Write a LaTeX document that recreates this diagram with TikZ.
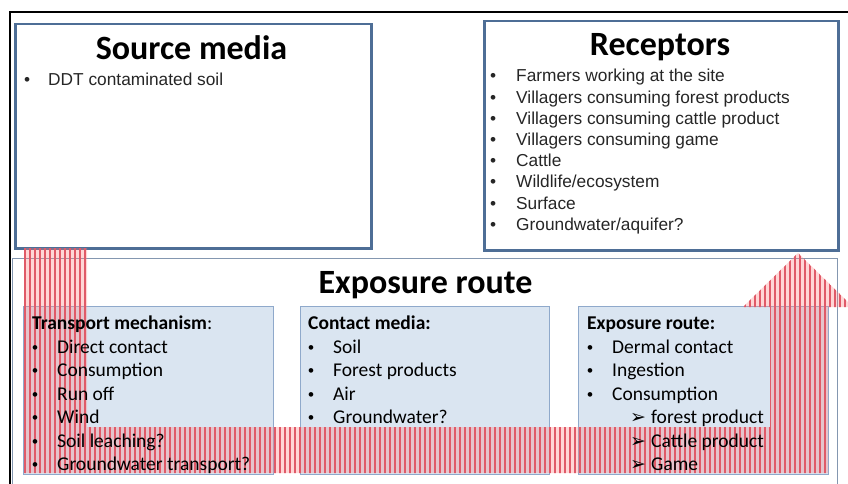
\documentclass[tikz,border=0pt]{standalone}
\usepackage{fontspec}
\setmainfont{Carlito}
\newfontfamily\arialf{Liberation Sans}
\newfontfamily\djv{DejaVu Sans}
\usetikzlibrary{patterns.meta}
\definecolor{topblue}{HTML}{4E6E96}
\definecolor{bigborder}{HTML}{8497B0}
\definecolor{boxfill}{HTML}{DAE5F1}
\definecolor{boxborder}{HTML}{8FA9CB}
\definecolor{stripe}{HTML}{E05A68}
\newcommand{\bul}[1]{\makebox[#1][l]{\textbullet}}
\newcommand{\cbul}{\makebox[25pt][l]{\arialf\fontsize{17}{17}\selectfont\textbullet}}
\newcommand{\subarr}{\hspace*{43pt}\makebox[21pt][l]{\djv\fontsize{19}{19}\selectfont ➢}}
\begin{document}
\begin{tikzpicture}[x=1pt,y=-1pt,
  topbox/.style={draw=topblue, line width=2.5pt, fill=white, anchor=north west, inner sep=0pt},
  subbox/.style={draw=boxborder, line width=0.8pt, fill=boxfill, anchor=north west, inner sep=0pt, minimum width=250pt, minimum height=168pt},
  bigbox/.style={draw=bigborder, line width=0.8pt, anchor=north west, inner sep=0pt},
  title/.style={font=\fontsize{34}{40}\selectfont\bfseries, anchor=base, inner sep=0pt},
  arlist/.style={font=\arialf\fontsize{17.3}{21.2}\selectfont, anchor=base west, inner sep=0pt, text=black!85},
  cblist/.style={font=\fontsize{19.5}{23.5}\selectfont, anchor=base west, inner sep=0pt},
  arrowfill/.style={fill=red!50, fill opacity=0.32},
  arrowstripes/.style={pattern={Lines[angle=90,distance=5pt,line width=2.4pt]}, pattern color=stripe, fill opacity=0.5},
]
\useasboundingbox (0,0) rectangle (848,484);
\fill[white] (0,0) rectangle (848,484);
\begin{scope}
\clip (0,0) rectangle (848,484);
% boxes
\node[bigbox, minimum width=825pt, minimum height=240pt] (expo) at (12,258) {};
\node[topbox, minimum width=356pt, minimum height=224pt] (src) at (14,23) {};
\node[topbox, minimum width=354pt, minimum height=229pt] (rec) at (483,20) {};
\node[subbox] (trans) at (23,306) {};
\node[subbox, minimum width=249pt] (cont) at (300,306) {};
\node[subbox] (route) at (578,306) {};
% big arrow
\def\arrowpath{(24,248) -- (87,248) -- (87,427) -- (770,427) -- (770,307) -- (743,307) -- (798,253) -- (853,307) -- (828,307) -- (828,473) -- (24,473) -- cycle}
\path[arrowfill] \arrowpath;
\path[arrowstripes] \arrowpath;
\end{scope}
% titles
\node[title] (srcT) at (191.5,60) {Source media};
\node[title] (recT) at (660,56) {Receptors};
\node[title] (expoT) at (425.5,293) {Exposure route};
% source list
\node[arlist] (srcL) at (24,86) {\bul{24pt}DDT contaminated soil};
% receptors list
\node[arlist] (recL) at (490,82) {\begin{tabular}[t]{@{}l@{}}
\bul{26pt}Farmers working at the site\\
\bul{26pt}Villagers consuming forest products\\
\bul{26pt}Villagers consuming cattle product\\
\bul{26pt}Villagers consuming game\\
\bul{26pt}Cattle\\
\bul{26pt}Wildlife/ecosystem\\
\bul{26pt}Surface\\
\bul{26pt}Groundwater/aquifer?
\end{tabular}};
% transport list
\node[cblist] (transL) at (32,329.5) {\begin{tabular}[t]{@{}l@{}}
\textbf{Transport mechanism}:\\
\cbul Direct contact\\
\cbul Consumption\\
\cbul Run off\\
\cbul Wind\\
\cbul Soil leaching?\\
\cbul Groundwater transport?
\end{tabular}};
% contact list
\node[cblist] (contL) at (308,329.5) {\begin{tabular}[t]{@{}l@{}}
\textbf{Contact media:}\\
\cbul Soil\\
\cbul Forest products\\
\cbul Air\\
\cbul Groundwater?
\end{tabular}};
% exposure route list
\node[cblist] (routeL) at (587,329.5) {\begin{tabular}[t]{@{}l@{}}
\textbf{Exposure route:}\\
\cbul Dermal contact\\
\cbul Ingestion\\
\cbul Consumption\\
\subarr forest product\\
\subarr Cattle product\\
\subarr Game
\end{tabular}};
% frame
\coordinate (fBL) at (10,484);
\coordinate (fTL) at (10,12);
\coordinate (fTR) at (848,12);
\draw[line width=2pt] (fBL) -- (fTL) -- (fTR);
\end{tikzpicture}
\end{document}
